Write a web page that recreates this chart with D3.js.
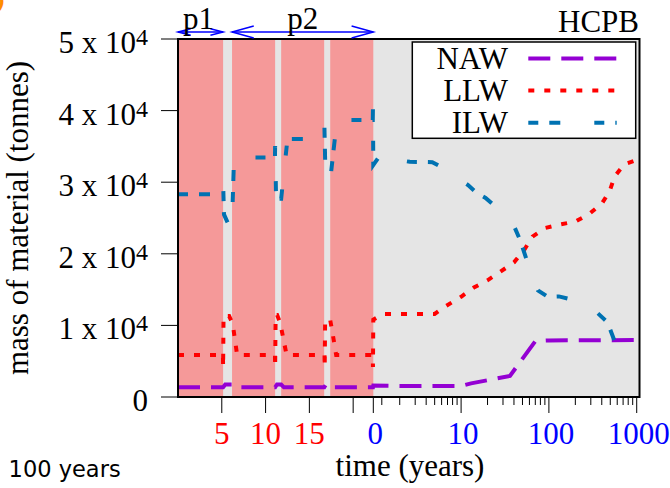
<!DOCTYPE html>
<html>
<head>
<meta charset="utf-8">
<script src="https://cdn.jsdelivr.net/npm/d3@7"></script>
<style>
  html, body { margin: 0; padding: 0; background: #ffffff; }
  svg { display: block; }
  .serif { font-family: "Liberation Serif", "Times New Roman", serif; }
</style>
</head>
<body>
<svg id="chart" width="670" height="488"></svg>
<script>
// Operation phase (linear years) and cooling phase (log years after shutdown)
const operationBands = [[0, 5.15], [6.17, 11.09], [11.78, 16.69], [17.38, 22.3]];
const periodSpans = [
  { name: "p1", from: 0, to: 5.15, head: 12.7, spread: 3.3 },
  { name: "p2", from: 6.17, to: 22.3, head: 21.7, spread: 6 }
];

const opTickYears = [5, 10, 15, 20];
const opTickLabels = ["5", "10", "15", ""];
const coolMajorYears = [1, 10, 100, 1000];
const coolMajorLabels = ["0", "10", "100", "1000"];
const coolMinorYears = [1.25, 2, 3, 4, 5, 6, 7, 8, 9, 20, 30, 40, 50, 60, 70, 80, 90,
  200, 300, 400, 500, 600, 700, 800, 900];
const yTickValues = [0, 10000, 20000, 30000, 40000, 50000];
const yTickMantissa = ["0", "1", "2", "3", "4", "5"];

// NAW
const nawOperation = [[0, 1355], [5.15, 1355], [5.4, 1750], [6.2, 1750], [6.5, 1355],
  [11.09, 1355], [11.3, 1750], [11.78, 1750], [12.1, 1355], [16.7, 1355], [16.9, 1750],
  [17.38, 1750], [17.7, 1355], [22.26, 1355], [22.3, 1600]];
const nawCooling = [[1, 1600], [2, 1540], [10, 1540], [13, 1900], [36, 2950], [70, 7800],
  [100, 7900], [1000, 7960]];

// LLW
const llwOperation = [[0, 5870], [5.13, 5870], [5.15, 4200], [5.2, 11300], [5.84, 11300],
  [6.25, 10200], [6.75, 5870], [11.07, 5870], [11.09, 4200], [11.15, 11450], [11.32, 11450],
  [11.66, 10400], [12.4, 5870], [16.73, 5870], [16.75, 4200], [16.8, 10750], [17.38, 10750],
  [17.78, 7960], [18.06, 5870], [22.24, 5870], [22.26, 4200], [22.3, 10800]];
const llwCooling = [[1, 10800], [1.3, 11600], [5, 11600], [6.5, 12600], [10, 14000],
  [14, 15300], [20, 16300], [28, 17500], [40, 18800], [52, 20500], [65, 22400], [90, 23600],
  [135, 24100], [200, 24500], [290, 25600], [400, 27000], [490, 28700], [560, 30800],
  [720, 32500], [1000, 33100]];

// ILW
const ilwOperation = [[0, 28300], [5.13, 28300], [5.15, 30000], [5.25, 25500], [5.95, 23600],
  [6.15, 23600], [6.4, 33450], [11.07, 33450], [11.09, 35050], [11.2, 27700], [11.78, 27700],
  [12.5, 36030], [16.7, 36030], [16.72, 37700], [16.85, 30300], [17.38, 30300], [18.15, 38700],
  [22.24, 38700], [22.26, 40360], [22.3, 32400]];
const ilwCooling = [[1, 32400], [1.25, 34100], [1.7, 33200], [2.6, 32850], [4.7, 32800],
  [6, 32100], [12, 29600], [15, 28500], [19, 27800], [24, 26700], [41, 23600], [47, 21900],
  [56, 19100], [75, 14900], [97, 14000], [130, 14050], [170, 13700], [360, 11700],
  [460, 10500], [500, 9400], [560, 7800], [1000, 4900]];

const seriesList = [
  { name: "NAW", op: nawOperation, cool: nawCooling, color: "#9400d3", dash: "22,11" },
  { name: "LLW", op: llwOperation, cool: llwCooling, color: "#ff0000", dash: "6,10" },
  { name: "ILW", op: ilwOperation, cool: ilwCooling, color: "#0072b2", dash: "10,11,11,34" }
];

const svg = d3.select("#chart");
const plot = { left: 178, right: 639.5, top: 39, bottom: 397 };
const xSplit = 373.3;

const xOp = d3.scaleLinear().domain([0, 22.3]).range([plot.left, xSplit]);
const xCool = d3.scaleLog().domain([1, 1076]).range([xSplit, plot.right]);
const y = d3.scaleLinear().domain([0, 50000]).range([plot.bottom, plot.top]);

const xOf = d => d.phase === "op" ? xOp(d.t) : xCool(d.t);

// background
svg.append("rect")
  .attr("x", plot.left).attr("y", plot.top)
  .attr("width", plot.right - plot.left).attr("height", plot.bottom - plot.top)
  .attr("fill", "#e5e5e5");

// operation periods
svg.append("g").selectAll("rect").data(operationBands).join("rect")
  .attr("x", d => xOp(d[0]))
  .attr("y", plot.top)
  .attr("width", d => xOp(d[1]) - xOp(d[0]))
  .attr("height", plot.bottom - plot.top)
  .attr("fill", "#f59999");

// y axis ticks and labels
const yAxis = svg.append("g").attr("class", "serif");
yAxis.selectAll("line").data(yTickValues).join("line")
  .attr("x1", plot.left - 17).attr("x2", plot.left)
  .attr("y1", d => y(d)).attr("y2", d => y(d))
  .attr("stroke", "#000").attr("stroke-width", 1);
const yLabels = yAxis.selectAll("text").data(yTickValues).join("text")
  .attr("x", 148)
  .attr("y", d => y(d) + 14)
  .attr("text-anchor", "end")
  .attr("font-size", 31)
  .attr("fill", "#000");
yLabels.each(function (d, i) {
  const t = d3.select(this);
  if (d === 0) { t.text(yTickMantissa[i]); return; }
  t.append("tspan").text(yTickMantissa[i] + " x 10");
  t.append("tspan").attr("font-size", 24).attr("dy", -8).text("4");
});

// x axis ticks: operation (linear) part
const xAxis = svg.append("g").attr("class", "serif");
xAxis.selectAll("line.op").data(opTickYears).join("line").attr("class", "op")
  .attr("x1", d => xOp(d)).attr("x2", d => xOp(d))
  .attr("y1", plot.bottom).attr("y2", plot.bottom + 16)
  .attr("stroke", "#000").attr("stroke-width", 1);
xAxis.selectAll("text.op").data(opTickYears).join("text").attr("class", "op")
  .attr("x", d => xOp(d)).attr("y", 444)
  .attr("text-anchor", "middle").attr("font-size", 31).attr("fill", "#ff0000")
  .text((d, i) => opTickLabels[i]);

// x axis ticks: cooling (log) part
xAxis.selectAll("line.major").data(coolMajorYears).join("line").attr("class", "major")
  .attr("x1", d => xCool(d)).attr("x2", d => xCool(d))
  .attr("y1", plot.bottom).attr("y2", plot.bottom + 16)
  .attr("stroke", "#000").attr("stroke-width", 1);
xAxis.selectAll("line.minor").data(coolMinorYears).join("line").attr("class", "minor")
  .attr("x1", d => xCool(d)).attr("x2", d => xCool(d))
  .attr("y1", plot.bottom).attr("y2", plot.bottom + 8)
  .attr("stroke", "#000").attr("stroke-width", 1);
xAxis.selectAll("text.cool").data(coolMajorYears).join("text").attr("class", "cool")
  .attr("x", d => xCool(d) + 2).attr("y", 444)
  .attr("text-anchor", "middle").attr("font-size", 31).attr("fill", "#0000ff")
  .text((d, i) => coolMajorLabels[i]);

// series lines
svg.append("clipPath").attr("id", "plotClip").append("rect")
  .attr("x", plot.left).attr("y", plot.top)
  .attr("width", plot.right - plot.left).attr("height", plot.bottom - plot.top);

const line = d3.line().x(xOf).y(d => y(d.v));
const lines = svg.append("g").attr("clip-path", "url(#plotClip)");
seriesList.forEach(s => {
  const pts = s.op.map(p => ({ phase: "op", t: p[0], v: p[1] }))
    .concat(s.cool.map(p => ({ phase: "cool", t: p[0], v: p[1] })));
  lines.append("path").datum(pts)
    .attr("d", line)
    .attr("fill", "none")
    .attr("stroke", s.color)
    .attr("stroke-width", 4)
    .attr("stroke-dasharray", s.dash)
    .attr("stroke-linejoin", "miter");
});

// frame
svg.append("rect")
  .attr("x", plot.left).attr("y", plot.top)
  .attr("width", plot.right - plot.left).attr("height", plot.bottom - plot.top)
  .attr("fill", "none").attr("stroke", "#000").attr("stroke-width", 2);

// legend
const legend = svg.append("g").attr("class", "serif");
legend.append("rect")
  .attr("x", 412.3).attr("y", 42).attr("width", 223.4).attr("height", 96.3)
  .attr("fill", "#fff").attr("stroke", "#000").attr("stroke-width", 1.5);
seriesList.forEach((s, i) => {
  const ly = 58.5 + i * 32.1;
  legend.append("text")
    .attr("x", 508).attr("y", ly + 10).attr("text-anchor", "end")
    .attr("font-size", 31).attr("fill", "#000").text(s.name);
  legend.append("line")
    .attr("x1", 528.3).attr("x2", 616.7).attr("y1", ly).attr("y2", ly)
    .attr("stroke", s.color).attr("stroke-width", 4)
    .attr("stroke-dasharray", s.dash);
});

// period arrows
const arrows = svg.append("g").attr("class", "serif");
const arrowY = 32;
periodSpans.forEach(p => {
  const x0 = xOp(p.from), x1 = xOp(p.to);
  const g = arrows.append("g").attr("fill", "none").attr("stroke", "#0000ff").attr("stroke-width", 1.5);
  g.append("line").attr("x1", x0).attr("x2", x1).attr("y1", arrowY).attr("y2", arrowY);
  g.append("path").attr("d", d3.line()([[x0 + p.head, arrowY - p.spread], [x0, arrowY], [x0 + p.head, arrowY + p.spread]]));
  g.append("path").attr("d", d3.line()([[x1 - p.head, arrowY - p.spread], [x1, arrowY], [x1 - p.head, arrowY + p.spread]]));
  arrows.append("text")
    .attr("x", (x0 + x1) / 2 + (p.name === "p1" ? -2 : 0)).attr("y", 28.5)
    .attr("text-anchor", "middle").attr("font-size", 31).attr("fill", "#000")
    .text(p.name);
});

// titles
svg.append("text").attr("class", "serif")
  .attr("x", 639).attr("y", 31.5).attr("text-anchor", "end")
  .attr("font-size", 31).attr("fill", "#000").text("HCPB");

svg.append("text").attr("class", "serif")
  .attr("x", 410).attr("y", 476).attr("text-anchor", "middle")
  .attr("font-size", 31).attr("fill", "#000").text("time (years)");

svg.append("text").attr("class", "serif")
  .attr("transform", `translate(28,${(plot.top + plot.bottom) / 2}) rotate(-90)`)
  .attr("text-anchor", "middle")
  .attr("font-size", 31).attr("fill", "#000").text("mass of material (tonnes)");

svg.append("text")
  .attr("x", 8.6).attr("y", 476.5)
  .attr("font-family", "DejaVu Sans, sans-serif")
  .attr("font-size", 22.5).attr("fill", "#000").text("100 years");

// panel tag in the corner
svg.append("text")
  .attr("x", -4).attr("y", 8)
  .attr("font-family", "DejaVu Sans, sans-serif").attr("font-weight", "bold")
  .attr("font-size", 20).attr("fill", "#ff8c00").text(")");
</script>
</body>
</html>
